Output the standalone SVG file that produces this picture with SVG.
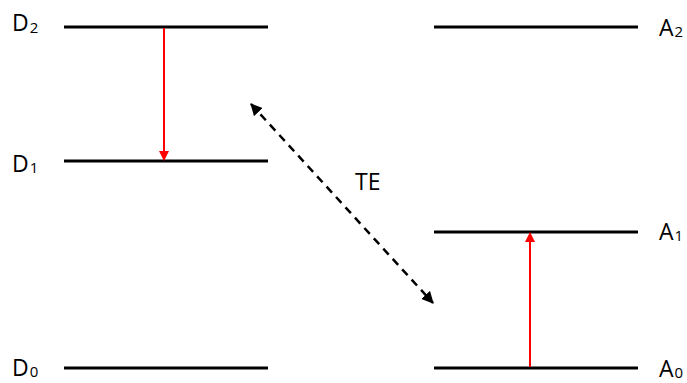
<svg xmlns="http://www.w3.org/2000/svg" width="687" height="383" viewBox="0 0 687 383">
<style>
.lvl{stroke:#000;stroke-width:3;fill:none}
.red{stroke:#ff0000;stroke-width:2;fill:none}
.lbl{font-family:"Open Sans","Liberation Sans",sans-serif;font-size:23px;fill:#000}
.sub{font-size:15px}
</style>
<defs>
<marker id="rh" markerWidth="10" markerHeight="10" refX="9" refY="5" orient="auto" markerUnits="userSpaceOnUse"><path d="M0,0 L10,5 L0,10 Z" fill="#ff0000"/></marker>
<marker id="kh" markerWidth="12" markerHeight="12" refX="11" refY="6" orient="auto" markerUnits="userSpaceOnUse"><path d="M0,0 L12,6 L0,12 Z" fill="#000"/></marker>
<marker id="kt" markerWidth="12" markerHeight="12" refX="1" refY="6" orient="auto" markerUnits="userSpaceOnUse"><path d="M12,0 L0,6 L12,12 Z" fill="#000"/></marker>
</defs>
<g id="D2"><line class="lvl" x1="64" y1="27" x2="268" y2="27"/><text class="lbl" x="12" y="31">D<tspan class="sub" dx="1" dy="2">2</tspan></text></g>
<g id="D1"><line class="lvl" x1="64" y1="161" x2="268" y2="161"/><text class="lbl" x="12" y="172">D<tspan class="sub" dx="1" dy="1">1</tspan></text></g>
<g id="D0"><line class="lvl" x1="64" y1="368" x2="268" y2="368"/><text class="lbl" x="12" y="376">D<tspan class="sub" dx="1" dy="1">0</tspan></text></g>
<g id="A2"><line class="lvl" x1="434" y1="27" x2="638" y2="27"/><text class="lbl" x="659" y="36">A<tspan class="sub" dx="1" dy="1">2</tspan></text></g>
<g id="A1"><line class="lvl" x1="434" y1="232" x2="638" y2="232"/><text class="lbl" x="659" y="240">A<tspan class="sub" dx="1" dy="1">1</tspan></text></g>
<g id="A0"><line class="lvl" x1="434" y1="368" x2="638" y2="368"/><text class="lbl" x="659" y="377">A<tspan class="sub" dx="1" dy="1">0</tspan></text></g>
<g id="connectors">
<line class="red" x1="164" y1="28" x2="164" y2="160" marker-end="url(#rh)"/>
<line class="red" x1="530" y1="367" x2="530" y2="233" marker-end="url(#rh)"/>
<line x1="251" y1="104" x2="433" y2="303" stroke="#000" stroke-width="2.5" stroke-dasharray="8,6" marker-start="url(#kt)" marker-end="url(#kh)"/>
<text class="lbl" x="355" y="190">TE</text>
</g>
</svg>
